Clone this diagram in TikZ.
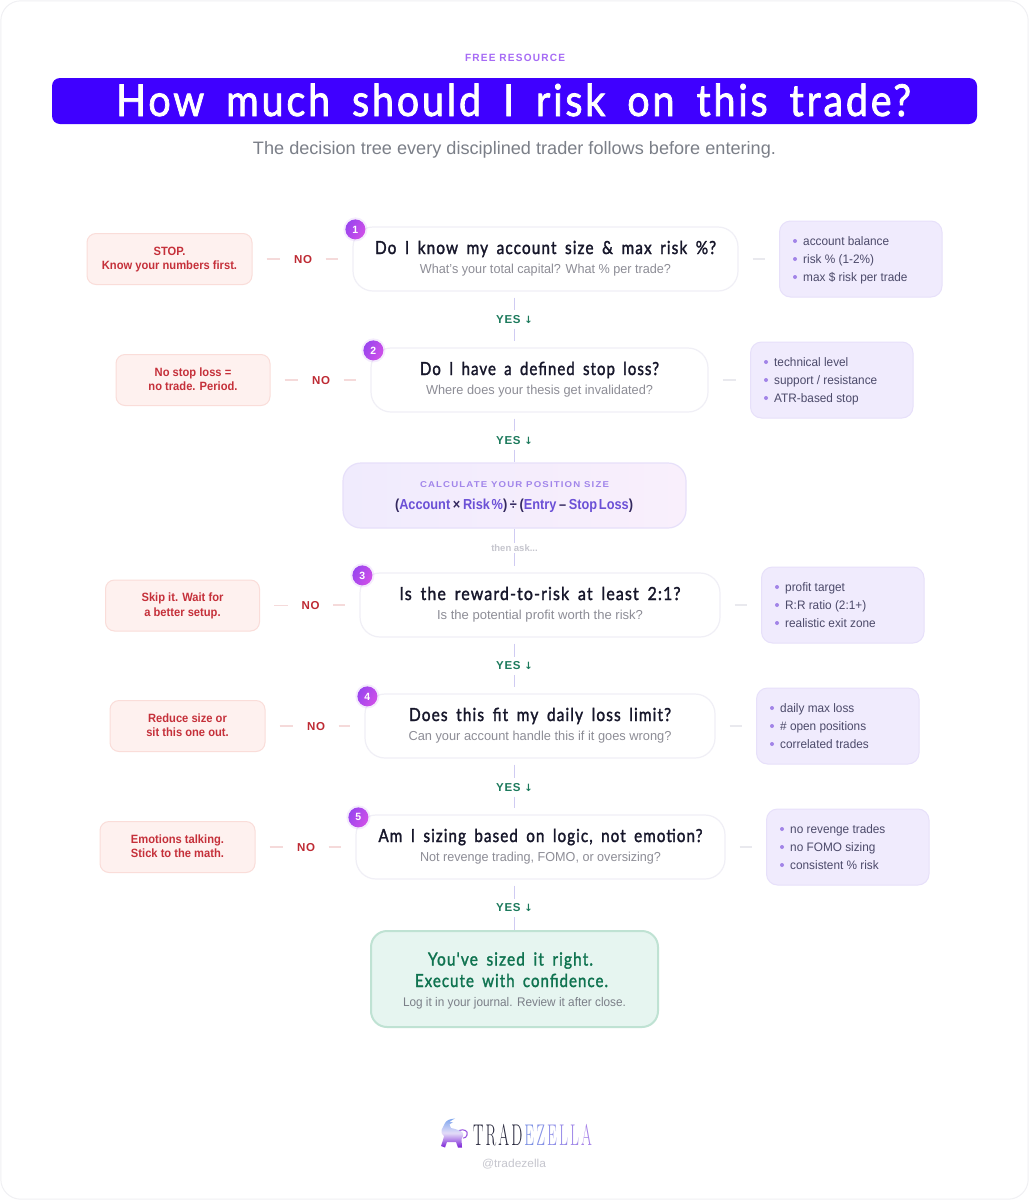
\documentclass[tikz,border=0pt]{standalone}
\usepackage{fontspec}
\usepackage{graphicx}
\usetikzlibrary{calc}
\setmainfont{Liberation Sans}
\newfontfamily\handf[FakeBold=1.8,LetterSpace=7,WordSpace=1.7]{Lato}
\newfontfamily\arrowf{DejaVu Sans}
\newfontfamily\spacedf[LetterSpace=12]{Liberation Sans}
\newfontfamily\trackf[LetterSpace=6]{Liberation Sans}
\newfontfamily\logof[LetterSpace=14]{Latin Modern Roman}
\definecolor{barblue}{HTML}{3F00FF}
\definecolor{eyebrow}{HTML}{A66BF5}
\definecolor{subgrey}{HTML}{7B7F88}
\definecolor{qborder}{HTML}{F0EFF6}
\definecolor{qtitle}{HTML}{17172B}
\definecolor{qsub}{HTML}{8D8D96}
\definecolor{stopfill}{HTML}{FEF1EF}
\definecolor{stopline}{HTML}{FADDD9}
\definecolor{stoptext}{HTML}{C5303A}
\definecolor{nored}{HTML}{BE2A33}
\definecolor{dashred}{HTML}{F5DADA}
\definecolor{sidefill}{HTML}{F0EBFD}
\definecolor{sideline}{HTML}{E7E0FA}
\definecolor{sidetext}{HTML}{4C4A6A}
\definecolor{bullet}{HTML}{A284E8}
\definecolor{greyline}{HTML}{E9E9EE}
\definecolor{vline}{HTML}{CFCBF2}
\definecolor{yesgreen}{HTML}{1C7A5C}
\definecolor{formpurple}{HTML}{6B50D6}
\definecolor{formdark}{HTML}{33285F}
\definecolor{calctitle}{HTML}{A185EA}
\definecolor{calcright}{HTML}{F9EFFC}
\definecolor{finalfill}{HTML}{E6F5F0}
\definecolor{finalline}{HTML}{BFE2D3}
\definecolor{finalgreen}{HTML}{0F7350}
\definecolor{thenask}{HTML}{C6C6CE}
\definecolor{B1}{HTML}{9A45EE}
\definecolor{B2}{HTML}{D04FE8}
\definecolor{L1}{HTML}{7FA6EE}
\definecolor{L2}{HTML}{E4DDF8}
\definecolor{L3}{HTML}{7A1FD6}
\newcommand{\fitw}[2]{\resizebox{#1pt}{\height}{#2}}
\tikzset{
  x=1pt,y=-1pt,
  qbox/.style={draw=qborder,line width=1.2pt,fill=white,rounded corners=20pt,minimum height=64pt,inner sep=0pt},
  stopbox/.style={draw=stopline,line width=1pt,fill=stopfill,rounded corners=9pt,minimum height=51pt,inner sep=0pt},
  sidebox/.style={draw=sideline,line width=1pt,fill=sidefill,rounded corners=11pt,minimum height=76pt,inner sep=0pt},
  txt/.style={inner sep=0pt,anchor=base},
  qtitletxt/.style={txt,text=qtitle,font=\handf\fontsize{18}{20}\selectfont},
  qsubtxt/.style={txt,text=qsub,font=\fontsize{13}{15}\selectfont},
  stoptxt/.style={txt,text=stoptext,font=\bfseries\fontsize{12}{14}\selectfont},
  sidetxt/.style={inner sep=0pt,anchor=base west,text=sidetext,font=\fontsize{12.3}{14}\selectfont},
  notxt/.style={inner sep=0pt,minimum width=45pt,minimum height=14pt,text=nored,font=\trackf\bfseries\fontsize{11.5}{13}\selectfont},
  yestxt/.style={inner sep=0pt,minimum height=18pt,text=yesgreen,font=\trackf\bfseries\fontsize{11.5}{13}\selectfont},
  dashn/.style={draw=dashred,line width=1.2pt},
  dashs/.style={draw=greyline,line width=1.2pt},
  vconn/.style={draw=vline,line width=1.8pt},
  badge/.style={circle,minimum size=20pt,inner sep=0pt,left color=B1,right color=B2,shading angle=60,text=white,font=\bfseries\fontsize{10.5}{12}\selectfont},
}
% name, cx, cy, width, number, title, title width, sub, sub width
\newcommand{\Q}[9]{%
  \node[qbox,minimum width=#4pt] (#1) at (#2,#3) {};
  \fill[B1,opacity=.10] ($(#1.north west)+(3,3)$) circle (12pt);
  \node[badge] (#1b) at ($(#1.north west)+(3,3)$) {#5};
  \node[qtitletxt] (#1t) at ($(#1.center)+(0,-5)$) {\fitw{#7}{#6}};
  \node[qsubtxt] (#1s) at ($(#1.center)+(0,14)$) {\fitw{#9}{#8}};
}
% name, cx, cy, width, line1, line2
\newcommand{\Stop}[6]{%
  \node[stopbox,minimum width=#4pt] (#1) at (#2,#3) {};
  \node[stoptxt] (#1a) at ($(#1.center)+(0,-4)$) {\scalebox{.93}[1]{#5}};
  \node[stoptxt] (#1b) at ($(#1.center)+(0,10.5)$) {\scalebox{.93}[1]{#6}};
}
% name, left x, cy, a, b, c
\newcommand{\Side}[6]{%
  \node[sidebox,minimum width=162.5pt,anchor=west] (#1) at (#2,#3) {};
  \foreach \k/\dy in {0/-18,1/0,2/18}{\fill[bullet] ($(#1.west)+(16,\dy)$) circle (2pt);}
  \node[sidetxt] (#1a) at ($(#1.west)+(24,-13.5)$) {\scalebox{.96}[1]{#4}};
  \node[sidetxt] (#1b) at ($(#1.west)+(24,4.5)$) {\scalebox{.96}[1]{#5}};
  \node[sidetxt] (#1c) at ($(#1.west)+(24,22.5)$) {\scalebox{.96}[1]{#6}};
}
% id, stop, question, side
\newcommand{\Links}[4]{%
  \node[notxt] (#1) at ($(#2.east)+(50.5,0.5)$) {NO};
  \draw[dashn,shorten <=14pt] (#2.east) -- (#1.west |- #2.east);
  \draw[dashn,shorten >=14pt] (#1.east |- #3.west) -- (#3.west);
  \draw[dashs,shorten <=14pt,shorten >=14pt] (#3.east) -- (#4.west);
}
\newcommand{\Yes}[2]{\node[yestxt] (#1) at (514.5,#2) {YES {\arrowf\bfseries\fontsize{10}{12}\selectfont ↓}};}
\begin{document}
\begin{tikzpicture}
\useasboundingbox (0,0) rectangle (1029,1200);
\draw[draw=greyline!70,line width=1pt,fill=white,rounded corners=20pt] (0.8,0.8) rectangle (1028.2,1199.2);

\node[inner sep=0pt,anchor=base,text=eyebrow,font=\spacedf\bfseries\fontsize{10.5}{12}\selectfont] (eyebrow) at (515,61) {\fitw{100}{FREE RESOURCE}};
\node[fill=barblue,rounded corners=8pt,minimum width=925pt,minimum height=46pt,inner sep=0pt] (bar) at (514.5,101) {};
\node[txt,text=white,font=\handf\fontsize{44}{48}\selectfont] (title) at (513.5,116) {\fitw{795}{How much should I risk on this trade?}};
\node[txt,text=subgrey,font=\fontsize{18}{20}\selectfont] (subtitle) at (514.5,154) {\fitw{523}{The decision tree every disciplined trader follows before entering.}};

\Q{q1}{545.5}{259}{385}{1}{Do I know my account size \& max risk \%?}{341}{What's your total capital? What \% per trade?}{251}
\Q{q2}{539.5}{380}{337}{2}{Do I have a defined stop loss?}{239}{Where does your thesis get invalidated?}{227}
\Q{q3}{540}{605}{360}{3}{Is the reward-to-risk at least 2:1?}{281}{Is the potential profit worth the risk?}{206}
\Q{q4}{540}{726}{350}{4}{Does this fit my daily loss limit?}{262}{Can your account handle this if it goes wrong?}{263}
\Q{q5}{540.5}{847}{369}{5}{Am I sizing based on logic, not emotion?}{324}{Not revenge trading, FOMO, or oversizing?}{241}

\Stop{s1}{169.5}{259}{165}{STOP.}{Know your numbers first.}
\Stop{s2}{193}{380}{154}{No stop loss =}{no trade. Period.}
\Stop{s3}{182.5}{605.5}{154}{Skip it. Wait for}{a better setup.}
\Stop{s4}{187.5}{726}{155}{Reduce size or}{sit this one out.}
\Stop{s5}{177.5}{847}{155}{Emotions talking.}{Stick to the math.}

\Side{r1}{779}{259}{account balance}{risk \% (1-2\%)}{max \$ risk per trade}
\Side{r2}{750}{380}{technical level}{support / resistance}{ATR-based stop}
\Side{r3}{761}{605}{profit target}{R:R ratio (2:1+)}{realistic exit zone}
\Side{r4}{756}{726}{daily max loss}{\# open positions}{correlated trades}
\Side{r5}{766}{847}{no revenge trades}{no FOMO sizing}{consistent \% risk}

\Links{n1}{s1}{q1}{r1}
\Links{n2}{s2}{q2}{r2}
\Links{n3}{s3}{q3}{r3}
\Links{n4}{s4}{q4}{r4}
\Links{n5}{s5}{q5}{r5}

% calculation box
\node[draw=sideline,line width=1.2pt,left color=sidefill,right color=calcright,rounded corners=18pt,minimum width=343pt,minimum height=65pt,inner sep=0pt] (calc) at (514.5,495.5) {};
\node[txt,text=calctitle,font=\spacedf\bfseries\fontsize{8.5}{10}\selectfont] (calct) at (514.5,487) {\fitw{189}{CALCULATE YOUR POSITION SIZE}};
\node[txt,font=\bfseries\fontsize{14.5}{16}\selectfont] (calcf) at (514,509) {\fitw{238}{\textcolor{formdark}{(}\textcolor{formpurple}{Account}\hspace{3pt}\textcolor{formdark}{×}\hspace{3pt}\textcolor{formpurple}{Risk\hspace{2pt}\%}\textcolor{formdark}{)\hspace{3pt}÷\hspace{3pt}(}\textcolor{formpurple}{Entry}\hspace{3pt}\textcolor{formdark}{–}\hspace{3pt}\textcolor{formpurple}{Stop\hspace{2pt}Loss}\textcolor{formdark}{)}}};

% final box
\node[draw=finalline,line width=2pt,fill=finalfill,rounded corners=16pt,minimum width=287pt,minimum height=96pt,inner sep=0pt] (final) at (514.5,979) {};
\node[txt,text=finalgreen,font=\handf\fontsize{18}{20}\selectfont] (finala) at (510.5,965.5) {\fitw{165}{You've sized it right.}};
\node[txt,text=finalgreen,font=\handf\fontsize{18}{20}\selectfont] (finalb) at (511.5,987) {\fitw{193}{Execute with confidence.}};
\node[txt,text=subgrey,font=\fontsize{12.5}{14}\selectfont] (finalc) at (514.5,1006.5) {\fitw{223}{Log it in your journal. Review it after close.}};

% vertical connectors
\Yes{y1}{319.5}\Yes{y2}{440.5}\Yes{y3}{666}\Yes{y4}{787.5}\Yes{y5}{908}
\node[inner sep=0pt,minimum height=10pt,text=thenask,font=\bfseries\fontsize{9.5}{11}\selectfont] (then) at (514.5,548) {then ask...};
\draw[vconn,shorten <=6pt] (y1 |- q1.south) -- (y1.north);
\draw[vconn,shorten >=6pt] (y1.south) -- (y1 |- q2.north);
\draw[vconn,shorten <=6pt] (y2 |- q2.south) -- (y2.north);
\draw[vconn] (y2.south) -- (calc.north);
\draw[vconn] (calc.south) -- (then.north);
\draw[vconn,shorten >=6pt] (then.south) -- (then |- q3.north);
\draw[vconn,shorten <=6pt] (y3 |- q3.south) -- (y3.north);
\draw[vconn,shorten >=6pt] (y3.south) -- (y3 |- q4.north);
\draw[vconn,shorten <=6pt] (y4 |- q4.south) -- (y4.north);
\draw[vconn,shorten >=6pt] (y4.south) -- (y4 |- q5.north);
\draw[vconn,shorten <=6pt] (y5 |- q5.south) -- (y5.north);
\draw[vconn] (y5.south) -- (final.north);

% logo mark
\draw[draw=L3!70!L2,line width=1.1pt,line cap=round] (459,1130.5) .. controls (464,1128.5) and (468.5,1131) .. (467,1135) .. controls (466.5,1137) and (465,1138) .. (463.5,1138);
\shade[top color=L1,bottom color=L3,middle color=L2]
 (455,1118.5) .. controls (450,1119) and (446,1120) .. (444.5,1124) -- (441.5,1130)
 .. controls (441,1133) and (442,1135) .. (444,1136) -- (443,1140) -- (441,1146) -- (445,1147.5) -- (447,1142)
 -- (456,1142) -- (458,1147.5) -- (462,1147.5) -- (461.5,1139) .. controls (463,1137) and (463.5,1135) .. (463,1133)
 .. controls (459,1129.5) and (455,1129) .. (451,1128) -- (449.5,1124.5) -- (453,1122) -- (449.5,1122) .. controls (451,1120.5) and (453,1119.5) .. (455,1118.5) -- cycle;
\node[txt,font=\logof\fontsize{30}{31}\selectfont] (logo) at (532.5,1145.5) {\fitw{119}{\textcolor[HTML]{25253A}{TRAD}\kern4pt\textcolor[HTML]{7E92E4}{E}\kern4pt\textcolor[HTML]{8692E6}{Z}\kern4pt\textcolor[HTML]{8F8FE8}{E}\kern4pt\textcolor[HTML]{988CE8}{L}\kern4pt\textcolor[HTML]{A088E8}{L}\kern4pt\textcolor[HTML]{A682E8}{A}}};
\node[txt,text=thenask,font=\fontsize{11.5}{13}\selectfont] (handle) at (514,1167) {\fitw{64}{@tradezella}};
\end{tikzpicture}
\end{document}
